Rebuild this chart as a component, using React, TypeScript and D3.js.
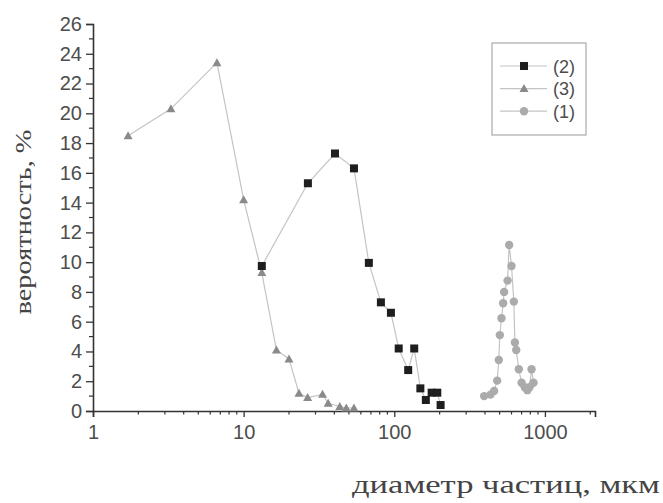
import * as d3 from 'd3';
import React, { useEffect, useRef } from 'react';

// series (2) - black squares
const sq_x = [13.2, 26.7, 40.4, 54, 67.8, 81.5, 95, 107, 123.7, 135.6, 149, 162, 177, 193, 203];
const sq_y = [9.74, 15.3, 17.3, 16.3, 9.95, 7.3, 6.6, 4.2, 2.75, 4.2, 1.52, 0.74, 1.23, 1.23, 0.4];

// series (3) - gray triangles
const tri_x = [1.71, 3.29, 6.65, 10.0, 13.2, 16.5, 20, 23.3, 26.6, 33.4, 36.4, 43.5, 48, 54];
const tri_y = [18.5, 20.3, 23.4, 14.2, 9.3, 4.1, 3.5, 1.19, 0.9, 1.12, 0.52, 0.3, 0.2, 0.2];

// series (1) - light gray circles
const cir_x = [395, 435, 460, 482, 494, 502, 515, 528, 536, 565, 579, 600, 622, 632, 645, 671, 700, 735, 765, 790, 815, 840];
const cir_y = [1.0, 1.1, 1.35, 2.04, 3.43, 5.1, 6.23, 7.24, 8.0, 8.76, 11.15, 9.74, 7.35, 4.6, 4.1, 2.8, 1.9, 1.6, 1.4, 1.6, 2.8, 1.9];

const yTicks = [0, 2, 4, 6, 8, 10, 12, 14, 16, 18, 20, 22, 24, 26];
const xTicks = [1, 10, 100, 1000];
const legendNames = ['(2)', '(3)', '(1)'];

const zip = (xs: number[], ys: number[]) => xs.map((x, i) => ({ x, y: ys[i] }));

const App = () => {
  const svgRef = useRef<SVGSVGElement>(null);
  const width = 663;
  const height = 503;

  useEffect(() => {
    const svg = d3.select(svgRef.current);
    svg.selectAll('*').remove();

    const xScale = d3.scaleLog().domain([1, 2150]).range([93, 595]);
    const yScale = d3.scaleLinear().domain([0, 26]).range([411, 24]);

    const axisColor = '#333';
    const labelColor = '#4d4d4d';
    const tickFont = '"Liberation Sans", Arial, sans-serif';

    // x axis
    const xAxis = d3
      .axisBottom(xScale)
      .tickValues(xTicks)
      .tickFormat(d3.format('d'))
      .tickSize(6)
      .tickPadding(8);
    const gx = svg.append('g').attr('transform', `translate(0, ${yScale(0)})`).call(xAxis);
    gx.select('.domain').attr('stroke', axisColor).attr('stroke-width', 1.6);
    gx.selectAll('.tick line').attr('stroke', axisColor).attr('stroke-width', 1.3);
    gx.selectAll('.tick text')
      .attr('fill', labelColor)
      .style('font-family', tickFont)
      .style('font-size', '20px');

    // x minor ticks
    const minorX: number[] = [];
    [1, 10, 100, 1000].forEach((dec) => {
      for (let k = 2; k <= 9; k++) {
        if (dec * k <= 2150) minorX.push(dec * k);
      }
    });
    svg
      .append('g')
      .selectAll('line')
      .data(minorX)
      .enter()
      .append('line')
      .attr('x1', (d) => xScale(d))
      .attr('x2', (d) => xScale(d))
      .attr('y1', yScale(0))
      .attr('y2', yScale(0) + 3.5)
      .attr('stroke', axisColor)
      .attr('stroke-width', 1.2);

    // y axis
    const yAxis = d3.axisLeft(yScale).tickValues(yTicks).tickSize(7).tickPadding(4);
    const gy = svg.append('g').attr('transform', `translate(${xScale(1)}, 0)`).call(yAxis);
    gy.select('.domain').attr('stroke', axisColor).attr('stroke-width', 1.6);
    gy.selectAll('.tick line').attr('stroke', axisColor).attr('stroke-width', 1.3);
    gy.selectAll('.tick text')
      .attr('fill', labelColor)
      .style('font-family', tickFont)
      .style('font-size', '20px');

    // y minor ticks
    const minorY = d3.range(1, 26, 2);
    svg
      .append('g')
      .selectAll('line')
      .data(minorY)
      .enter()
      .append('line')
      .attr('x1', xScale(1) - 4)
      .attr('x2', xScale(1))
      .attr('y1', (d) => yScale(d))
      .attr('y2', (d) => yScale(d))
      .attr('stroke', axisColor)
      .attr('stroke-width', 1.2);

    // axis titles
    svg
      .append('text')
      .attr('transform', 'translate(31, 222) rotate(-90)')
      .attr('text-anchor', 'middle')
      .attr('fill', '#444')
      .attr('textLength', 185)
      .attr('lengthAdjust', 'spacingAndGlyphs')
      .style('font-family', '"Liberation Serif", "Times New Roman", serif')
      .style('font-size', '23px')
      .text('вероятность, %');

    svg
      .append('text')
      .attr('x', 352)
      .attr('y', 493)
      .attr('fill', '#444')
      .attr('textLength', 308)
      .attr('lengthAdjust', 'spacingAndGlyphs')
      .style('font-family', '"Liberation Serif", "Times New Roman", serif')
      .style('font-size', '26px')
      .text('диаметр частиц, мкм');

    const line = d3
      .line<{ x: number; y: number }>()
      .x((d) => xScale(d.x))
      .y((d) => yScale(d.y));

    const lineColor = '#c4c4c4';

    const series = [
      { data: zip(tri_x, tri_y), kind: 'tri', fill: '#8a8a8a' },
      { data: zip(sq_x, sq_y), kind: 'sq', fill: '#1e1e1e' },
      { data: zip(cir_x, cir_y), kind: 'cir', fill: '#ababab' },
    ];

    const drawMarker = (g: any, kind: string, fill: string, cx: number, cy: number) => {
      if (kind === 'sq') {
        g.append('rect')
          .attr('x', cx - 4)
          .attr('y', cy - 4)
          .attr('width', 8)
          .attr('height', 8)
          .attr('fill', fill);
      } else if (kind === 'tri') {
        g.append('path')
          .attr('d', `M${cx},${cy - 4.5}L${cx + 4.5},${cy + 3.5}L${cx - 4.5},${cy + 3.5}Z`)
          .attr('fill', fill);
      } else {
        g.append('circle').attr('cx', cx).attr('cy', cy).attr('r', 4.2).attr('fill', fill);
      }
    };

    series.forEach((s) => {
      svg
        .append('path')
        .datum(s.data)
        .attr('d', line)
        .attr('fill', 'none')
        .attr('stroke', lineColor)
        .attr('stroke-width', 1.2);
      const g = svg.append('g');
      s.data.forEach((d) => drawMarker(g, s.kind, s.fill, xScale(d.x), yScale(d.y)));
    });

    // legend
    const lg = svg.append('g');
    lg.append('rect')
      .attr('x', 492)
      .attr('y', 43)
      .attr('width', 94)
      .attr('height', 92)
      .attr('fill', 'white')
      .attr('stroke', '#aaa')
      .attr('stroke-width', 1.2);
    const legendKinds = [
      { kind: 'sq', fill: '#1e1e1e' },
      { kind: 'tri', fill: '#8a8a8a' },
      { kind: 'cir', fill: '#ababab' },
    ];
    legendNames.forEach((name, i) => {
      const ly = 66 + i * 22.6;
      lg.append('line')
        .attr('x1', 500)
        .attr('x2', 547)
        .attr('y1', ly)
        .attr('y2', ly)
        .attr('stroke', lineColor)
        .attr('stroke-width', 1.2);
      drawMarker(lg, legendKinds[i].kind, legendKinds[i].fill, 524, ly);
      lg.append('text')
        .attr('x', 553)
        .attr('y', ly + 6.5)
        .attr('fill', labelColor)
        .style('font-family', tickFont)
        .style('font-size', '18px')
        .text(name);
    });
  }, []);

  return (
    <svg
      ref={svgRef}
      width={width}
      height={height}
      style={{ position: 'absolute', left: 0, top: 0, background: 'white' }}
    ></svg>
  );
};

export default App;
